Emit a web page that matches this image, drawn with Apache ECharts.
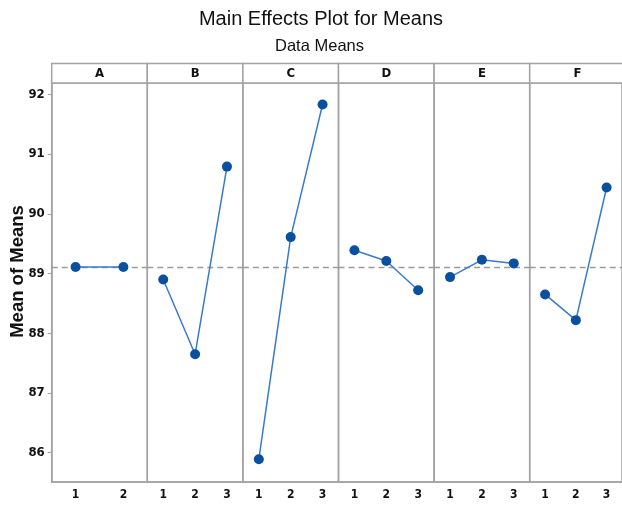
<!DOCTYPE html>
<html><head><meta charset="utf-8">
<script src="https://cdn.jsdelivr.net/npm/echarts@6/dist/echarts.min.js"></script>
<style>html,body{margin:0;padding:0;background:#fff}#c{width:622px;height:505px}</style>
</head><body><div id="c"></div>
<script>
// ---- data ----
const factors = ['A', 'B', 'C', 'D', 'E', 'F'];
const levels2 = ['1', '2'];
const levels3 = ['1', '2', '3'];
const meansA = [89.11, 89.11];
const meansB = [88.90, 87.65, 90.79];
const meansC = [85.89, 89.61, 91.83];
const meansD = [89.39, 89.21, 88.72];
const meansE = [88.94, 89.23, 89.17];
const meansF = [88.65, 88.22, 90.44];
const yTickValues = [86, 87, 88, 89, 90, 91, 92];
const yMin = 85.51, yMax = 92.19;

// ---- layout ----
const L = 51.7, PW = 95.6, TOP = 83, H = 399, HEAD_TOP = 63.5;
const narrow = '"Liberation Sans Narrow", "DejaVu Sans Condensed", "Liberation Sans", sans-serif';
const gray = '#a3a3a3';

const seriesData = [meansA, meansB, meansC, meansD, meansE, meansF];
const levelSets = [levels2, levels3, levels3, levels3, levels3, levels3];
const avg = a => a.reduce((s, v) => s + v, 0) / a.length;
const grandMean = avg(seriesData.map(avg));

const grids = [], xAxes = [], yAxes = [], series = [], graphics = [];
factors.forEach((f, i) => {
  grids.push({ left: L + i * PW, top: TOP, width: PW, height: H, show: true,
    borderColor: gray, borderWidth: 1.5, backgroundColor: 'transparent' });
  xAxes.push({ type: 'category', gridIndex: i, data: levelSets[i], boundaryGap: true,
    axisLine: { lineStyle: { color: gray, width: 1.5 } },
    axisTick: { alignWithLabel: true, length: 3, lineStyle: { color: gray } },
    axisLabel: { color: '#111', fontFamily: narrow, fontWeight: 'bold', fontSize: 12, margin: 7 },
    splitLine: { show: false } });
  yAxes.push({ type: 'value', gridIndex: i, min: yMin, max: yMax,
    axisLine: { show: i === 0, lineStyle: { color: gray, width: 1.5 } },
    axisTick: { show: i === 0, length: 4, customValues: yTickValues, lineStyle: { color: gray } },
    axisLabel: { show: i === 0, customValues: yTickValues, color: '#111', fontFamily: narrow,
      fontWeight: 'bold', fontSize: 13, margin: 7 },
    splitLine: { show: false } });
  series.push({ type: 'line', name: f, xAxisIndex: i, yAxisIndex: i, data: seriesData[i],
    symbol: 'circle', symbolSize: 10, itemStyle: { color: '#0b4f9f' },
    lineStyle: { color: '#3a7acb', width: 1.5 }, z: 3,
    markLine: { silent: true, symbol: 'none', label: { show: false },
      lineStyle: { type: [6, 4], color: '#9a9a9a', width: 1.3 }, data: [{ yAxis: grandMean }], z: 1 } });
  graphics.push({ type: 'rect', shape: { x: L + i * PW, y: HEAD_TOP, width: PW, height: TOP - HEAD_TOP },
    style: { fill: '#fff', stroke: gray, lineWidth: 1.5 } });
  graphics.push({ type: 'text', x: L + i * PW + PW / 2, y: (HEAD_TOP + TOP) / 2 + 0.5,
    style: { text: f, font: 'bold 13px ' + narrow, fill: '#111', textAlign: 'center', textVerticalAlign: 'middle' } });
});
graphics.push({ type: 'text', x: 321, y: 19.7,
  style: { text: 'Main Effects Plot for Means', font: '500 20px "Liberation Sans", Arial, sans-serif', fill: '#111',
    textAlign: 'center', textVerticalAlign: 'middle' } });
graphics.push({ type: 'text', x: 319.5, y: 46,
  style: { text: 'Data Means', font: '16.5px "Liberation Sans", Arial, sans-serif', fill: '#111',
    textAlign: 'center', textVerticalAlign: 'middle' } });
graphics.push({ type: 'text', x: 17.5, y: 271.5, rotation: Math.PI / 2,
  style: { text: 'Mean of Means', font: 'bold 18.5px "Liberation Sans", Arial, sans-serif', fill: '#111',
    textAlign: 'center', textVerticalAlign: 'middle' } });

const chart = echarts.init(document.getElementById('c'), null, { renderer: 'canvas' });
chart.setOption({ animation: false, backgroundColor: '#fff', grid: grids, xAxis: xAxes, yAxis: yAxes,
  series: series, graphic: graphics });
</script></body></html>
